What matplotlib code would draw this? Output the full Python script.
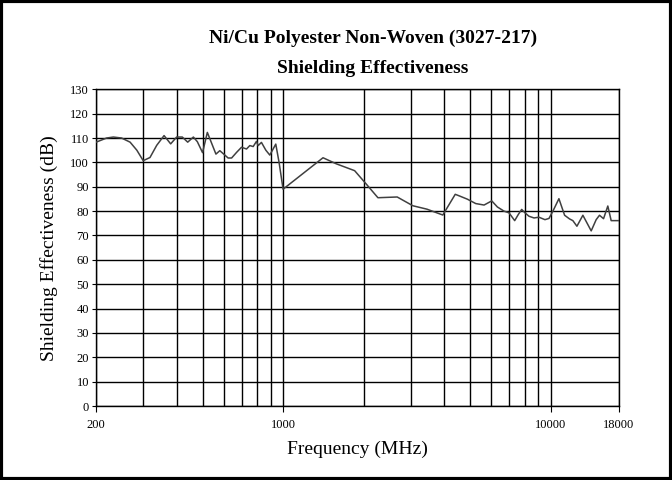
import matplotlib
matplotlib.use("Agg")
import matplotlib.pyplot as plt
from matplotlib.patches import Rectangle
from matplotlib.ticker import NullFormatter

# values
freq_mhz = [200, 219, 232, 249, 268, 284, 300, 318, 337, 359, 380, 400, 420,
            440, 462, 478, 500, 521, 540, 561, 580, 600, 623, 642, 670, 699,
            730, 751, 773, 795, 807, 830, 862, 892, 939, 966, 1000, 1410,
            1582, 1851, 2046, 2262, 2670, 3056, 3450, 3954, 4400, 4545, 4885,
            5250, 5640, 6025, 6325, 6695, 6990, 7340, 7570, 7795, 8020, 8300,
            8665, 9045, 9525, 9860, 10200, 10740, 11280, 11770, 12110, 12540,
            13200, 14180, 14800, 15230, 15770, 16360, 16840, 18000]
se_db = [108.3, 110.0, 110.4, 110.0, 108.3, 105.0, 100.7, 102.0, 107.0, 111.0,
         107.6, 110.4, 110.4, 108.3, 110.4, 108.5, 104.0, 112.3, 108.0, 103.4,
         104.8, 103.4, 101.8, 101.8, 104.1, 106.2, 105.5, 106.9, 106.5, 108.6,
         106.9, 108.2, 105.0, 103.0, 107.5, 100.0, 89.0, 101.9, 99.4, 96.6,
         91.1, 85.5, 85.8, 82.2, 80.8, 78.4, 86.9, 86.3, 84.9, 83.1, 82.5,
         84.2, 81.7, 80.0, 79.3, 76.1, 78.6, 80.7, 79.3, 77.9, 77.2, 77.5,
         76.5, 77.0, 80.0, 85.1, 78.3, 76.8, 76.1, 73.8, 78.3, 71.9, 76.5,
         78.3, 76.9, 82.1, 76.1, 76.1]

xtick_vals = [200, 1000, 10000, 18000]
xtick_labels = ["200", "1000", "10000", "18000"]
xgrid_minor = [300, 400, 500, 600, 700, 800, 900,
               2000, 3000, 4000, 5000, 6000, 7000, 8000, 9000]
yticks = list(range(0, 131, 10))

plt.rcParams['font.family'] = ['Liberation Serif', 'DejaVu Serif']

fig = plt.figure(figsize=(6.72, 4.8), dpi=100)
ax = fig.add_axes([0.143, 0.154, 0.778, 0.660])

ax.plot(freq_mhz, se_db, color="#404040", linewidth=1.1, zorder=3)

ax.set_xscale("log")
ax.set_xlim(200, 18000)
ax.set_ylim(0, 130)

ax.set_xticks(xtick_vals)
ax.set_xticklabels(xtick_labels)
ax.set_xticks(xgrid_minor, minor=True)
ax.xaxis.set_minor_formatter(NullFormatter())
ax.set_yticks(yticks)
ax.tick_params(axis="x", which="major", length=4, labelsize=9, pad=5)
ax.tick_params(axis="x", which="minor", length=0)
ax.tick_params(axis="y", length=3, labelsize=9, pad=2)

ax.grid(True, which="both", axis="x", color="black", linewidth=1.0)
ax.grid(True, which="major", axis="y", color="black", linewidth=1.0)
for s in ax.spines.values():
    s.set_linewidth(1.0)

ax.set_xlabel("Frequency (MHz)", fontsize=14, labelpad=7)
ax.set_ylabel("Shielding Effectiveness (dB)", fontsize=14, labelpad=9)

fig.text(0.555, 0.92, "Ni/Cu Polyester Non-Woven (3027-217)",
         ha="center", va="center", fontsize=14, fontweight="bold")
fig.text(0.555, 0.858, "Shielding Effectiveness",
         ha="center", va="center", fontsize=14, fontweight="bold")

# black frame around the whole picture
fig.patches.append(Rectangle((0.002, 0.003), 0.996, 0.994, transform=fig.transFigure,
                             fill=False, edgecolor="black", linewidth=3))

fig.savefig("out.png", dpi=100)
